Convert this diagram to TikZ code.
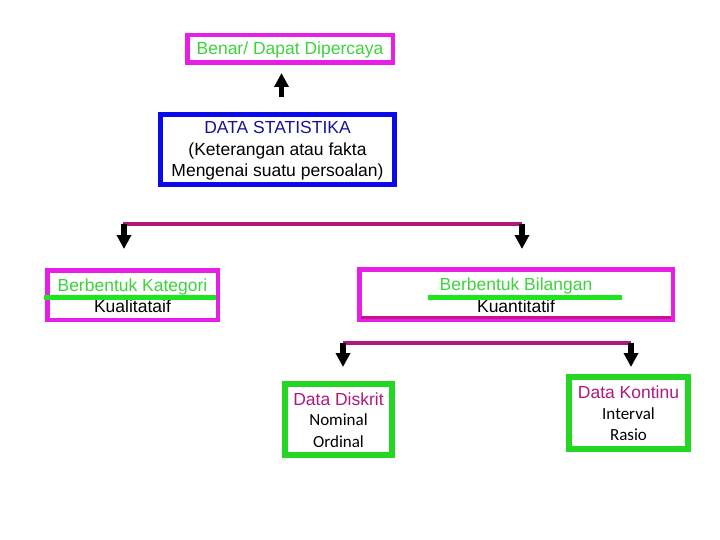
\documentclass[tikz,border=0pt]{standalone}
\usepackage{fontspec}
\setmainfont{Liberation Sans}
\newfontfamily\calibrilike{Carlito}
\usepackage{xcolor}
\usetikzlibrary{arrows.meta}

\definecolor{magbox}{RGB}{230,30,230}
\definecolor{barpurple}{RGB}{175,25,125}
\definecolor{shadowpurple}{RGB}{200,20,140}
\definecolor{greentext}{RGB}{60,210,60}
\definecolor{greenline}{RGB}{30,230,30}
\definecolor{greenbox}{RGB}{35,215,35}
\definecolor{bluebox}{RGB}{10,10,235}
\definecolor{bluetext}{RGB}{20,20,150}

\newcommand{\subtext}[1]{{\calibrilike\fontsize{17}{21.5}\selectfont #1}}

\begin{document}
\begin{tikzpicture}[x=1pt, y=-1pt,
    every node/.style={font=\fontsize{17.5}{21.5}\selectfont},
    box/.style={draw, inner sep=0pt, align=center},
    blockarrow/.style={line width=5.5pt, -{Triangle[width=14pt,length=14pt]}},
    bar/.style={barpurple, line width=4pt},
    strike/.style={greenline, line width=5pt}]
  \useasboundingbox (0,0) rectangle (720,540);
  % top part
  \node[box, draw=magbox, line width=4.5pt, minimum width=205.5pt, minimum height=27.5pt,
        text=greentext, text height=12.5pt, text depth=1pt] (benar) at (290,49) {Benar/ Dapat Dipercaya};
  \node[box, draw=bluebox, line width=5pt, minimum width=234pt, minimum height=70pt]
        (stat) at (277.5,149.5) {\rule{0pt}{15pt}\textcolor{bluetext}{DATA STATISTIKA}\\(Keterangan atau fakta\\Mengenai suatu persoalan)};
  \draw[blockarrow, shorten <=15pt, shorten >=8pt] ([xshift=4pt]stat.north) -- ([xshift=4pt]stat.north |- benar.south);
  % first level
  \node[box, draw=magbox, line width=4.5pt, minimum width=170.5pt, minimum height=49.5pt]
        (kat) at (132.5,295) {\rule{0pt}{14pt}\textcolor{greentext}{Berbentuk Kategori}\\Kualitataif};
  \node[box, draw=magbox, line width=4.5pt, minimum width=313.5pt, minimum height=50.5pt]
        (bil) at (516,294.5) {\rule{0pt}{14pt}\textcolor{greentext}{Berbentuk Bilangan}\\Kuantitatif};
  \draw[shadowpurple, line width=3pt] (361,317.5) -- (671,317.5);
  \draw[strike] (44,297.5) -- (216,297.5);
  \draw[strike] (428,297) -- (622,297);
  \coordinate (barL) at (123,224);
  \coordinate (barR) at (522,224);
  \draw[bar] (barL) -- (barR);
  \draw[blockarrow, shorten >=19pt] ([xshift=1pt]barL) -- ([xshift=1pt]barL |- kat.north);
  \draw[blockarrow, shorten >=18pt] (barR) -- (barR |- bil.north);
  % second level
  \node[box, draw=greenbox, line width=6pt, minimum width=107pt, minimum height=71pt]
        (disk) at (338.5,419.5) {\rule{0pt}{14pt}\textcolor{barpurple}{Data Diskrit}\\[-1pt]\subtext{Nominal}\\\subtext{Ordinal}};
  \node[box, draw=greenbox, line width=6pt, minimum width=119pt, minimum height=72pt]
        (kont) at (628.5,413) {\rule{0pt}{14pt}\textcolor{barpurple}{Data Kontinu}\\[-1pt]\subtext{Interval}\\\subtext{Rasio}};
  \coordinate (bar2L) at (343,343);
  \coordinate (bar2R) at (631,343);
  \draw[bar] (bar2L) -- (bar2R);
  \draw[blockarrow, shorten >=14pt] (bar2L) -- (bar2L |- disk.north);
  \draw[blockarrow, shorten >=7pt] (bar2R) -- (bar2R |- kont.north);
\end{tikzpicture}
\end{document}
